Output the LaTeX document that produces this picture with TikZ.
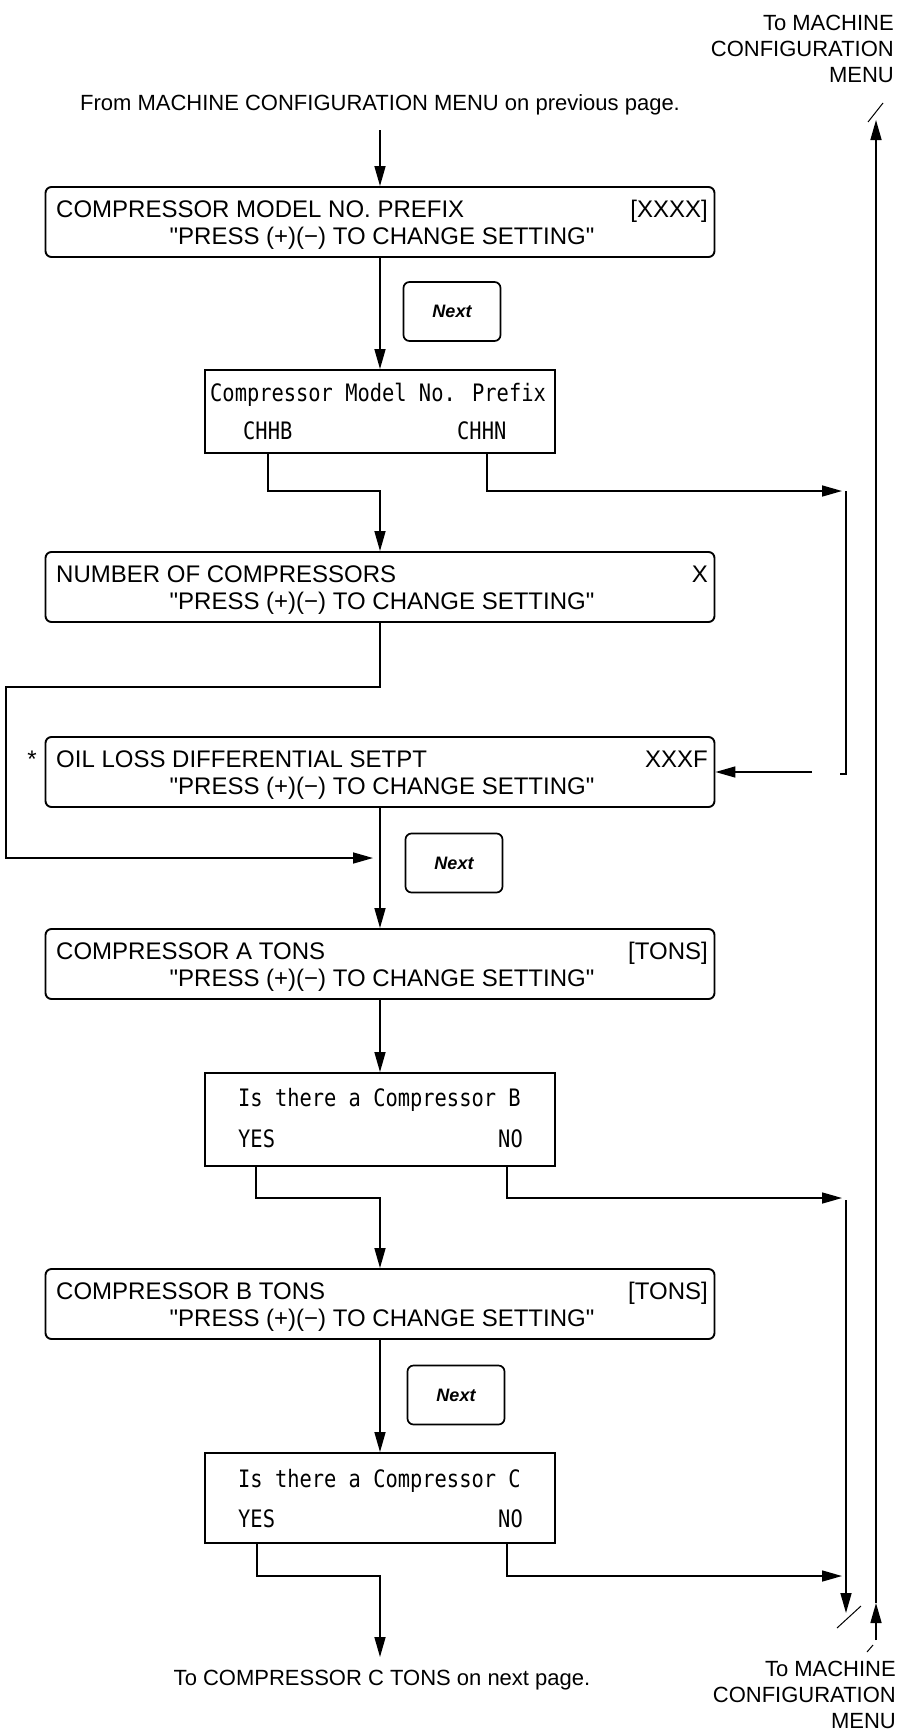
\documentclass[tikz,border=0pt]{standalone}
\usepackage{fontspec}
\setmainfont{Liberation Sans}[Ligatures=TeXOff]
\newfontfamily\lcdfont[FakeStretch=0.85]{DejaVu Sans Mono}
\usetikzlibrary{arrows.meta}
\begin{document}
\begin{tikzpicture}[x=1pt,y=-1pt,
  arr/.style={-{Triangle[length=20pt,width=11pt]}, line width=1.6pt},
  ln/.style={line width=1.6pt},
  mainbox/.style={draw, line width=1.9pt, rounded corners=6pt, minimum width=669pt, minimum height=70pt, inner sep=0pt},
  lcdbox/.style={draw, line width=1.9pt, minimum width=350pt, inner sep=0pt},
  nextbox/.style={draw, line width=1.7pt, rounded corners=6pt, minimum width=97pt, minimum height=59pt, inner sep=0pt, font=\fontsize{18}{20}\selectfont\bfseries\itshape},
  txt/.style={font=\fontsize{24}{28}\selectfont, inner sep=0pt},
  lbl/.style={font=\fontsize{22}{26}\selectfont, inner sep=0pt},
  lcd/.style={font=\fontsize{24}{28}\lcdfont, inner sep=0pt},
  slash/.style={line width=1pt}
]
\useasboundingbox (0,0) rectangle (898,1733);

% labels
\node[lbl, align=right, anchor=north east] (tmtop) at (894,15) {To MACHINE\\CONFIGURATION\\MENU};
\node[lbl] (from) at (380,105) {From MACHINE CONFIGURATION MENU on previous page.};
\node[lbl, anchor=base] (toc) at (382,1685) {To COMPRESSOR C TONS on next page.};
\node[lbl, align=right, anchor=north east] (tmbot) at (896,1661) {To MACHINE\\CONFIGURATION\\MENU};

% box 1
\node[mainbox] (b1) at (380,222) {};
\node[txt, anchor=base west] (b1a) at (56,217) {COMPRESSOR MODEL NO. PREFIX};
\node[txt, anchor=base east] (b1b) at (708,217) {[XXXX]};
\node[txt, anchor=base] (b1c) at (382,244) {"PRESS (+)(−) TO CHANGE SETTING"};

% next 1
\node[nextbox] (n1) at (452,311.5) {Next};

% box 2 (LCD)
\node[lcdbox, minimum height=83pt] (b2) at (380,411.5) {};
\node[lcd, anchor=base west] (b2a) at (210,401) {Compressor Model No. Prefix};
\node[lcd, anchor=base west] (chhb) at (243,439) {CHHB};
\node[lcd, anchor=base west] (chhn) at (457,439) {CHHN};

% box 3
\node[mainbox] (b3) at (380,587) {};
\node[txt, anchor=base west] (b3a) at (56,582) {NUMBER OF COMPRESSORS};
\node[txt, anchor=base east] (b3b) at (708,582) {X};
\node[txt, anchor=base] (b3c) at (382,609) {"PRESS (+)(−) TO CHANGE SETTING"};

% box 4
\node[mainbox] (b4) at (380,772) {};
\node[txt, anchor=base] (ast) at (32,767) {*};
\node[txt, anchor=base west] (b4a) at (56,767) {OIL LOSS DIFFERENTIAL SETPT};
\node[txt, anchor=base east] (b4b) at (708,767) {XXXF};
\node[txt, anchor=base] (b4c) at (382,794) {"PRESS (+)(−) TO CHANGE SETTING"};

% next 2
\node[nextbox] (n2) at (454,863) {Next};

% box 5
\node[mainbox] (b5) at (380,964) {};
\node[txt, anchor=base west] (b5a) at (56,959) {COMPRESSOR A TONS};
\node[txt, anchor=base east] (b5b) at (708,959) {[TONS]};
\node[txt, anchor=base] (b5c) at (382,986) {"PRESS (+)(−) TO CHANGE SETTING"};

% box 6 (LCD)
\node[lcdbox, minimum height=93pt] (b6) at (380,1119.5) {};
\node[lcd, anchor=base west] (b6a) at (238,1106) {Is there a Compressor B};
\node[lcd, anchor=base west] (b6y) at (238,1147) {YES};
\node[lcd, anchor=base east] (b6n) at (523,1147) {NO};

% box 7
\node[mainbox] (b7) at (380,1304) {};
\node[txt, anchor=base west] (b7a) at (56,1299) {COMPRESSOR B TONS};
\node[txt, anchor=base east] (b7b) at (708,1299) {[TONS]};
\node[txt, anchor=base] (b7c) at (382,1326) {"PRESS (+)(−) TO CHANGE SETTING"};

% next 3
\node[nextbox] (n3) at (456,1395) {Next};

% box 8 (LCD)
\node[lcdbox, minimum height=90pt] (b8) at (380,1498) {};
\node[lcd, anchor=base west] (b8a) at (238,1487) {Is there a Compressor C};
\node[lcd, anchor=base west] (b8y) at (238,1527) {YES};
\node[lcd, anchor=base east] (b8n) at (523,1527) {NO};

% coordinates
\coordinate (fa) at (380,130);
\coordinate (j1) at (380,491);
\coordinate (c1) at (487,491);
\coordinate (r1a) at (842,491);
\coordinate (r1t) at (846,491);
\coordinate (r1b) at (846,774);
\coordinate (r1c) at (812,772);
\coordinate (l1) at (6,687);
\coordinate (l2) at (373,858);
\coordinate (yb) at (256,1198);
\coordinate (nb) at (507,1198);
\coordinate (r2a) at (842,1198);
\coordinate (yc) at (257,1576);
\coordinate (nc) at (507,1576);
\coordinate (r3a) at (842,1576);
\coordinate (tca) at (380,1657);
\coordinate (i1) at (846,1200);
\coordinate (i2) at (846,1613);
\coordinate (o1) at (876,1640);
\coordinate (o2) at (876,1603);
\coordinate (o3) at (876,120);

% connectors
\draw[arr] (fa) -- (b1.north);
\draw[arr] (b1.south) -- (b2.north);
\draw[arr] (b2.south -| chhb.south) |- (j1) -- (b3.north);
\draw[arr] (b2.south -| c1) -- (c1) -- (r1a);
\draw[ln] (r1t) -- (r1b) -- ++(-6,0);
\draw[arr] (r1c) -- (b4.east);
\draw[arr] (b3.south) |- (l1) |- (l2);
\draw[arr] (b4.south) -- (b5.north);
\draw[arr] (b5.south) -- (b6.north);
\draw[arr] (b6.south -| yb) -- (yb) -| (b7.north);
\draw[arr] (b6.south -| nb) -- (nb) -- (r2a);
\draw[arr] (b7.south) -- (b8.north);
\draw[arr] (b8.south -| yc) -- (yc) -| (tca);
\draw[arr] (b8.south -| nc) -- (nc) -- (r3a);
\draw[arr] (i1) -- (i2);
\draw[arr] (o1) -- (o2);
\draw[arr] (o2) -- (o3);

% break marks
\draw[slash] (868,122) -- (883,103);
\draw[slash] (837,1628) -- (861,1606);
\draw[slash] (867,1652) -- (873,1645);
\end{tikzpicture}
\end{document}
